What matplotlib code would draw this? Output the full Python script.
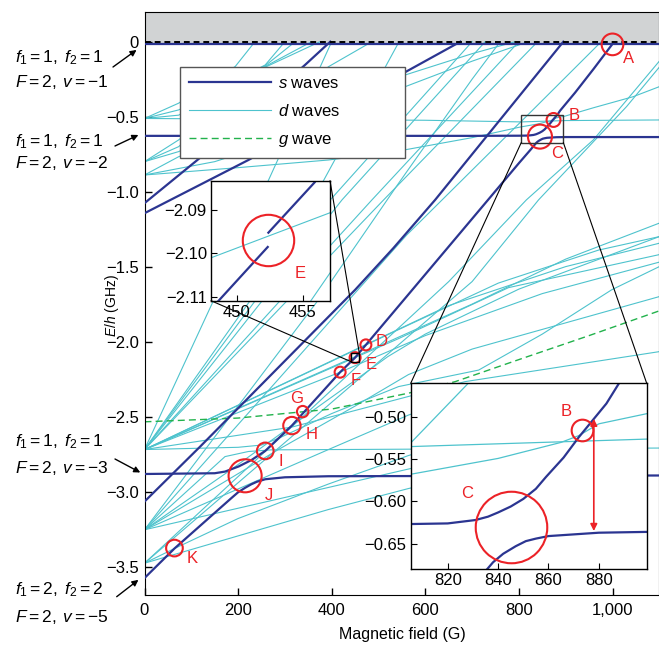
import matplotlib.pyplot as plt
from matplotlib.patches import Rectangle, ConnectionPatch
from matplotlib.lines import Line2D

plt.rcParams['font.family'] = ['Liberation Sans', 'DejaVu Sans']
plt.rcParams['mathtext.fontset'] = 'custom'
plt.rcParams['mathtext.rm'] = 'Liberation Sans'
plt.rcParams['mathtext.it'] = 'Liberation Sans:italic'
plt.rcParams['axes.unicode_minus'] = True

NAVY = '#2b3591'
CYAN = '#4ec3cd'
GREEN = '#22b24c'
RED = '#ec2227'
BAND = '#d1d3d4'

# ---- s-wave bound states: magnetic field (G), E/h (GHz) ----
s_thresh_B = [0, 1100]
s_thresh_E = [-0.015, -0.015]

# nu = -2 level, bends up at C and runs through B to A
s_up_B = [0, 700, 800, 820, 831, 836, 840, 845, 850, 855, 859, 866, 872, 883, 888, 920, 960, 1000]
s_up_E = [-0.628, -0.628, -0.627, -0.626, -0.622, -0.618, -0.613, -0.606, -0.597, -0.585,
          -0.571, -0.548, -0.524, -0.484, -0.46, -0.34, -0.18, -0.015]

# nu = -3 level, bends up at J, runs through I..D, ends flat after C
s_mid_B = [0, 150, 172, 201, 229, 258, 315, 338, 418, 450, 473, 560, 734, 800, 825,
           834, 838, 842, 847, 851, 855, 860, 870, 880, 900, 1100]
s_mid_E = [-2.883, -2.878, -2.867, -2.833, -2.789, -2.729, -2.56, -2.48, -2.204,
           -2.107, -2.022, -1.70, -1.055, -0.81, -0.72, -0.686, -0.672, -0.662, -0.653,
           -0.647, -0.644, -0.641, -0.639, -0.637, -0.636, -0.636]

# lowest state through K, flattens after J
s_low_B = [0, 64, 187, 200, 215, 228, 240, 258, 300, 393, 1100]
s_low_E = [-3.577, -3.38, -3.04, -3.005, -2.975, -2.952, -2.935, -2.918, -2.905, -2.898, -2.893]

s_b_B = [0, 119, 450, 532, 621, 895]
s_b_E = [-3.067, -2.70, -1.655, -1.376, -1.055, 0]
s_c_B = [0, 122, 343, 397]
s_c_E = [-1.077, -0.766, -0.155, 0]
s_d_B = [0, 222, 553, 675]
s_d_E = [-1.144, -0.789, -0.21, 0]

s_waves = [(s_thresh_B, s_thresh_E), (s_up_B, s_up_E), (s_mid_B, s_mid_E),
           (s_low_B, s_low_E), (s_b_B, s_b_E), (s_c_B, s_c_E), (s_d_B, s_d_E)]

# ---- d-wave states ----
d_top = [
    ([0, 73, 194, 236], [-0.512, -0.41, -0.165, 0]),
    ([0, 73, 258, 300], [-0.512, -0.455, -0.155, 0]),
    ([0, 73, 258, 322], [-0.512, -0.49, -0.16, 0]),
    ([0, 300, 600, 805, 900, 1100], [-0.512, -0.518, -0.524, -0.535, -0.526, -0.522]),
    ([0, 73, 258, 357], [-0.80, -0.655, -0.165, 0]),
    ([0, 73, 258, 375], [-0.80, -0.70, -0.17, 0]),
    ([0, 73, 300, 393, 486], [-0.80, -0.733, -0.40, -0.167, 0]),
    ([0, 73, 300, 557, 700, 792], [-0.889, -0.767, -0.50, -0.222, -0.08, 0]),
    ([0, 200, 393, 532, 700, 803, 840, 865, 872, 880, 899, 960, 1044, 1100],
     [-0.889, -0.84, -0.789, -0.735, -0.64, -0.569, -0.549, -0.530, -0.522,
      -0.508, -0.496, -0.44, -0.367, -0.30]),
    ([0, 150, 400, 557, 700, 820], [-0.889, -0.80, -0.55, -0.30, -0.13, 0]),
    ([0, 560, 805, 833, 976], [-3.255, -1.29, -0.5316, -0.445, 0]),
    ([0, 650, 816, 959, 1100], [-3.478, -1.60, -1.055, -0.655, -0.13]),
    ([0, 700, 842, 1030, 1100], [-3.478, -1.60, -1.055, -0.433, -0.17]),
]
d_mid = [
    ([0, 158, 400], [-2.72, -1.655, 0]),
    ([0, 300, 544], [-2.72, -1.40, 0]),
    ([0, 397, 700], [-2.72, -1.055, 0]),
    ([0, 422, 728], [-2.72, -1.055, 0]),
    ([0, 486, 800], [-2.72, -1.055, 0]),
    ([0, 511, 840], [-2.72, -1.055, 0]),
    ([0, 543, 756, 970, 1100], [-2.72, -1.92, -1.61, -1.39, -1.30]),
    ([0, 543, 778, 1100], [-2.72, -1.98, -1.64, -1.42]),
    ([0, 452, 700, 900, 1100], [-2.72, -2.098, -1.75, -1.45, -1.21]),
    ([0, 473, 650, 900, 1100], [-2.72, -2.02, -1.76, -1.50, -1.344]),
    ([0, 418, 600, 850, 1100], [-2.72, -2.204, -1.96, -1.68, -1.47]),
    ([0, 315, 685, 1100], [-2.72, -2.57, -2.267, -2.067]),
    ([0, 200, 250, 290, 400, 543, 714, 850, 998, 1100],
     [-2.72, -2.705, -2.69, -2.64, -2.48, -2.30, -2.19, -1.95, -1.655, -1.50]),
]
d_low = [
    ([0, 372, 543, 700, 760], [-3.255, -1.72, -0.944, -0.25, 0]),
    ([0, 172, 222, 272, 600, 1100], [-3.255, -2.767, -2.733, -2.722, -2.717, -2.71]),
    ([0, 393, 564, 650], [-3.255, -2.72, -2.49, -2.40]),
    ([0, 286, 450, 564, 700, 1100], [-3.255, -2.72, -2.43, -2.22, -2.05, -1.70]),
    ([0, 179, 315, 418, 520, 600, 800, 1100], [-3.255, -2.867, -2.56, -2.33, -2.10, -1.95, -1.65, -1.30]),
    ([0, 564, 650], [-3.255, -2.85, -2.79]),
    ([0, 64, 200, 393, 564, 650], [-3.478, -3.38, -3.18, -2.95, -2.76, -2.68]),
    ([0, 393, 564, 650], [-3.478, -3.12, -2.98, -2.92]),
]
d_waves = d_top + d_mid + d_low

# ---- g-wave state ----
g_B = [0, 200, 308, 400, 564, 664, 800, 950, 1100]
g_E = [-2.535, -2.51, -2.477, -2.45, -2.344, -2.267, -2.12, -1.96, -1.795]

# ---- marked resonances ----
res_names = ['A', 'B', 'C', 'D', 'E', 'F', 'G', 'H', 'I', 'J', 'K']
res_B = [1000, 874, 845, 473, 450, 418, 338, 315, 258, 215, 64]
res_E = [-0.018, -0.522, -0.633, -2.022, -2.107, -2.204, -2.467, -2.56, -2.729, -2.895, -3.377]
res_ms = [15.6, 10, 17.3, 7.9, 7.9, 7.9, 8.2, 12.5, 12, 23.8, 12]
lab_B = [1034, 919, 881, 507, 484, 451, 324, 357, 292, 266, 101]
lab_E = [-0.111, -0.489, -0.744, -2.0, -2.155, -2.26, -2.377, -2.622, -2.80, -3.027, -3.444]

# ---- inset around E ----
insE_lo_B = [448.6, 452.35]
insE_lo_E = [-2.111, -2.0985]
insE_hi_B = [452.4, 455.9]
insE_hi_E = [-2.0952, -2.0836]
insE_d_B = [448.05, 457.07]
insE_d_E = [-2.101, -2.0906]
insE_d2_B = [455.6, 457.07]
insE_d2_E = [-2.111, -2.1045]

# ---- threshold labels (left margin) ----
thr_line1 = [r'$f_1 = 1,\;f_2 = 1$'] * 3 + [r'$f_1 = 2,\;f_2 = 2$']
thr_line2 = [r'$F = 2,\;v = -1$', r'$F = 2,\;v = -2$', r'$F = 2,\;v = -3$', r'$F = 2,\;v = -5$']
thr_head_B = [-17, -13, -9, -13]
thr_head_E = [-0.055, -0.622, -2.873, -3.589]

x_ticks = [0, 200, 400, 600, 800, 1000]
x_ticklabels = ['0', '200', '400', '600', '800', '1,000']
y_ticks = [0, -0.5, -1.0, -1.5, -2.0, -2.5, -3.0, -3.5]
y_ticklabels = ['0', '\u22120.5', '\u22121.0', '\u22121.5', '\u22122.0', '\u22122.5', '\u22123.0', '\u22123.5']


def draw_levels(a, s_lw=1.6, d_lw=0.8):
    for B, E in d_waves:
        a.plot(B, E, color=CYAN, lw=d_lw, zorder=2)
    a.plot(g_B, g_E, color=GREEN, lw=1.0, ls=(0, (5, 3)), zorder=2.5)
    for B, E in s_waves:
        a.plot(B, E, color=NAVY, lw=s_lw, zorder=3)


W, H = 659, 648
fig = plt.figure(figsize=(W / 100, H / 100), dpi=100)
ax = fig.add_axes([144.5 / W, 1 - 595 / H, 514.8 / W, 583.3 / H])
ax.set_xlim(0, 1100)
ax.set_ylim(-3.69, 0.2)
ax.axhspan(0, 0.2, color=BAND, zorder=0)
ax.axhline(0, color='k', lw=1.4, ls=(0, (3, 2)), zorder=4)
draw_levels(ax)

ax.scatter(res_B, res_E, s=[m ** 2 for m in res_ms], facecolors='none',
           edgecolors=RED, linewidths=1.5, zorder=6)
for n, bx, ey in zip(res_names, lab_B, lab_E):
    ax.text(bx, ey, n, color=RED, fontsize=12, ha='center', va='center', zorder=6)

ax.set_xticks(x_ticks)
ax.set_xticklabels(x_ticklabels)
ax.set_yticks(y_ticks)
ax.set_yticklabels(y_ticklabels)
ax.tick_params(direction='in', length=5, width=1, labelsize=12, top=False, right=False)
ax.tick_params(axis='x', pad=6)
ax.tick_params(axis='y', pad=4)
ax.set_xlabel('Magnetic field (G)', fontsize=11.5)
ax.set_ylabel(r'$E/h$ (GHz)', fontsize=10)
ax.xaxis.set_label_coords(0.5, -0.055)
ax.yaxis.set_label_coords(-0.045, 0.497)

handles = [Line2D([], [], color=NAVY, lw=1.6), Line2D([], [], color=CYAN, lw=0.8),
           Line2D([], [], color=GREEN, lw=1.0, ls=(0, (5, 3)))]
leg = ax.legend(handles, [r'$s$ waves', r'$d$ waves', r'$g$ wave'],
                loc='upper left', bbox_to_anchor=(0.069, 0.7526, 0.437, 0.153),
                mode='expand', fontsize=12, handlelength=4.9, handletextpad=0.45,
                labelspacing=0.74, borderpad=0.55, fancybox=False, framealpha=1,
                edgecolor='#555555', borderaxespad=0)
leg.get_frame().set_linewidth(1.0)
leg.set_zorder(7)

# small boxes marking the zoomed regions
ax.add_patch(Rectangle((442, -2.135), 17, 0.058, fill=False, ec='k', lw=1, zorder=6))
ax.add_patch(Rectangle((805, -0.673), 90, 0.184, fill=False, ec='#333333', lw=1, zorder=6))

# threshold labels
ys1 = [58, 142, 442, 590]
ys2 = [82, 163, 468, 617]
tails = [(113, 67), (115, 146), (115, 459), (116.7, 596.7)]
for t1, t2, y1, y2, (tx, ty), hb, he in zip(thr_line1, thr_line2, ys1, ys2, tails,
                                              thr_head_B, thr_head_E):
    fig.text(15 / W, 1 - y1 / H, t1, fontsize=12.5, va='center', ha='left')
    fig.text(15 / W, 1 - y2 / H, t2, fontsize=12.5, va='center', ha='left')
    ax.annotate('', xy=(hb, he), xycoords='data', xytext=(tx / W, 1 - ty / H),
                textcoords='figure fraction', annotation_clip=False,
                arrowprops=dict(arrowstyle='-|>', color='k', lw=1, mutation_scale=9,
                                shrinkA=0, shrinkB=0))

# ---- inset: resonance E ----
axE = fig.add_axes([211 / W, 1 - 300.7 / H, 119 / W, 120 / H])
axE.plot(insE_d_B, insE_d_E, color=CYAN, lw=0.8)
axE.plot(insE_d2_B, insE_d2_E, color=CYAN, lw=0.8)
axE.plot(insE_lo_B, insE_lo_E, color=NAVY, lw=1.6)
axE.plot(insE_hi_B, insE_hi_E, color=NAVY, lw=1.6)
axE.plot([452.4], [-2.0969], 'o', ms=37, mfc='none', mec=RED, mew=1.5)
axE.text(454.8, -2.1046, 'E', color=RED, fontsize=12, ha='center', va='center')
axE.set_xlim(448.05, 457.07)
axE.set_ylim(-2.1109, -2.0832)
axE.set_xticks([450, 455])
axE.set_yticks([-2.09, -2.10, -2.11])
axE.set_yticklabels(['\u22122.09', '\u22122.10', '\u22122.11'])
axE.tick_params(direction='in', length=4, labelsize=12, pad=3)

# ---- inset: resonances B and C ----
axC = fig.add_axes([410.7 / W, 1 - 569 / H, 236 / W, 185.7 / H])
draw_levels(axC, s_lw=1.6, d_lw=0.9)
axC.plot([845], [-0.6305], 'o', ms=51.5, mfc='none', mec=RED, mew=1.5, zorder=6)
axC.plot([873.3], [-0.515], 'o', ms=15.6, mfc='none', mec=RED, mew=1.5, zorder=6)
axC.annotate('', xy=(878, -0.502), xytext=(878, -0.635),
             arrowprops=dict(arrowstyle='<|-|>', color=RED, lw=1.2, mutation_scale=10,
                             shrinkA=0, shrinkB=0))
axC.text(867.2, -0.493, 'B', color=RED, fontsize=12, ha='center', va='center')
axC.text(827.8, -0.590, 'C', color=RED, fontsize=12, ha='center', va='center')
axC.set_xlim(805.3, 899)
axC.set_ylim(-0.68, -0.46)
axC.set_xticks([820, 840, 860, 880])
axC.set_yticks([-0.50, -0.55, -0.60, -0.65])
axC.set_yticklabels(['\u22120.50', '\u22120.55', '\u22120.60', '\u22120.65'])
axC.tick_params(direction='in', length=4, labelsize=12, pad=3)

for a in (axE, axC):
    for sp in a.spines.values():
        sp.set_linewidth(1)
        sp.set_zorder(8)

# connector lines from the marked boxes to the insets
for xyA, xyB, axA in [((448.05, -2.1109), (442, -2.135), axE),
                      ((457.07, -2.0832), (459, -2.077), axE),
                      ((805.3, -0.46), (805, -0.673), axC),
                      ((899, -0.46), (895, -0.673), axC)]:
    con = ConnectionPatch(xyA=xyA, coordsA=axA.transData, xyB=xyB, coordsB=ax.transData,
                          color='k', lw=0.8, zorder=5)
    fig.add_artist(con)

fig.savefig('out.png', dpi=100)
